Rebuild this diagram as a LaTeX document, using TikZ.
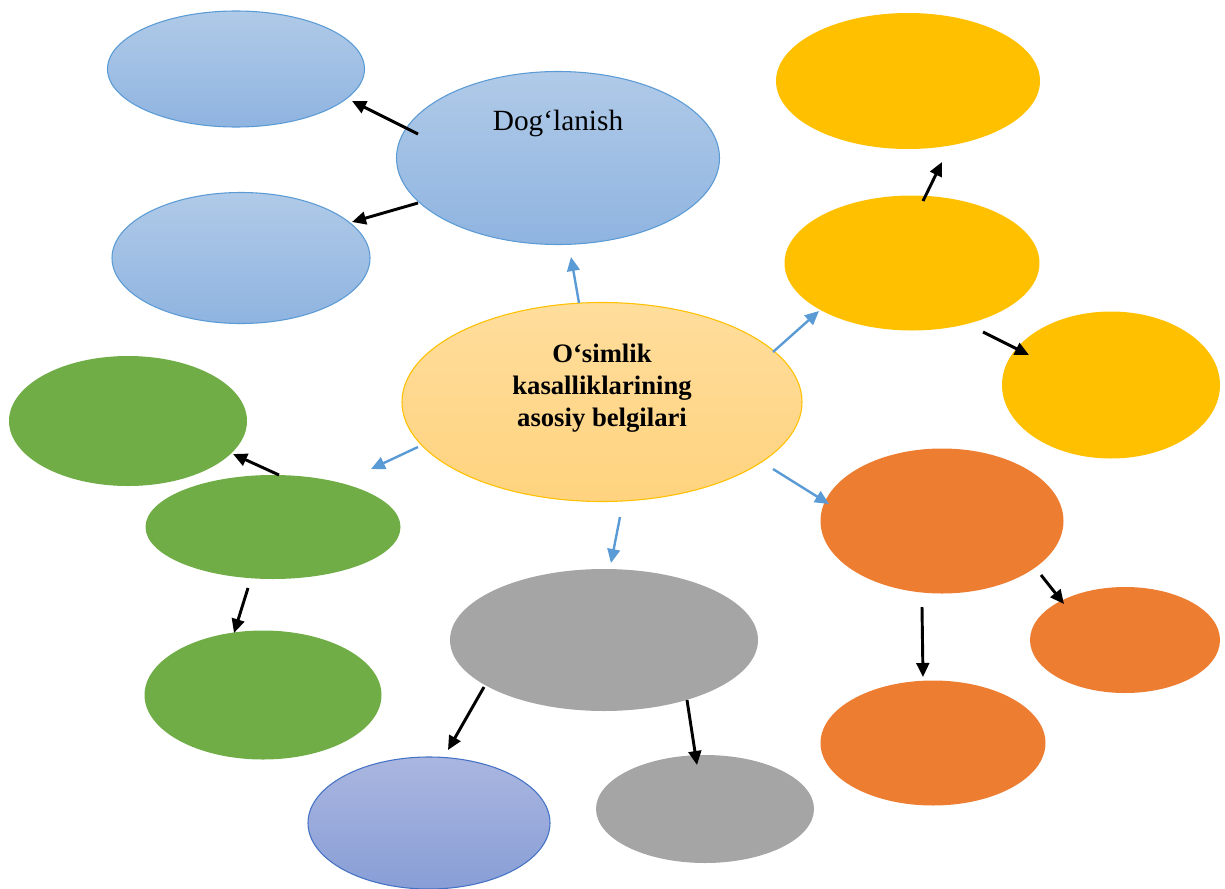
\documentclass[tikz,border=0pt]{standalone}
\usepackage{fontspec}
\setmainfont{Liberation Serif}
\usetikzlibrary{arrows.meta,shapes.geometric}

\definecolor{skyA}{HTML}{B0CAE8}
\definecolor{skyB}{HTML}{8FB4E0}
\definecolor{skyLine}{HTML}{5B9BD5}
\definecolor{lavA}{HTML}{AAB6E0}
\definecolor{lavB}{HTML}{889ED6}
\definecolor{lavLine}{HTML}{4472C4}
\definecolor{coreA}{HTML}{FFDD9C}
\definecolor{coreB}{HTML}{FFD37F}
\definecolor{gold}{HTML}{FFC000}
\definecolor{rust}{HTML}{ED7D31}
\definecolor{ash}{HTML}{A5A5A5}
\definecolor{leaf}{HTML}{70AD47}

\begin{document}
\begin{tikzpicture}[x=0.75pt,y=-0.75pt,
  sz/.style 2 args={minimum width=#1*0.75pt, minimum height=#2*0.75pt},
  bub/.style={ellipse, inner sep=0pt, outer sep=0pt},
  sky/.style={bub, draw=skyLine, line width=0.8pt, top color=skyA, bottom color=skyB},
  lav/.style={bub, draw=lavLine, line width=0.8pt, top color=lavA, bottom color=lavB},
  core/.style={bub, draw=gold, line width=0.8pt, top color=coreA, bottom color=coreB},
  goldfill/.style={bub, fill=gold},
  rustfill/.style={bub, fill=rust},
  ashfill/.style={bub, fill=ash},
  leaffill/.style={bub, fill=leaf},
  blk/.style={draw=black, line width=2.2pt, -{Triangle[length=10.5pt,width=9.5pt]}},
  blu/.style={draw=skyLine, line width=1.8pt, -{Triangle[length=10.5pt,width=9.5pt]}}
]
\useasboundingbox (0,0) rectangle (1225,889);

% central idea
\node[core, sz={400}{199},
  label={[align=center, font=\fontsize{20}{24}\selectfont\bfseries, yshift=10pt]center:O‘simlik\\kasalliklarining\\asosiy belgilari}]
  (root) at (602,402) {};

% blue branch
\node[sky, sz={323}{173},
  label={[font=\fontsize{22}{26}\selectfont, yshift=26pt]center:Dog‘lanish}]
  (dog) at (558,158) {};
\node[sky, sz={257}{116}] (dogA) at (236,69) {};
\node[sky, sz={258}{131}] (dogB) at (241,258) {};

% yellow branch
\node[goldfill, sz={255}{135}] (yel) at (912,263) {};
\node[goldfill, sz={264}{136}] (yelA) at (908,81) {};
\node[goldfill, sz={218}{147}] (yelB) at (1111,385) {};

% orange branch
\node[rustfill, sz={243}{145}] (org) at (942,521) {};
\node[rustfill, sz={190}{106}] (orgA) at (1125,640) {};
\node[rustfill, sz={225}{125}] (orgB) at (933,743) {};

% grey branch
\node[ashfill, sz={308}{142}] (gry) at (604,640) {};
\node[ashfill, sz={218}{108}] (gryA) at (705,809) {};
\node[lav, sz={242}{132}] (gryB) at (429,823) {};

% green branch
\node[leaffill, sz={255}{104}] (grn) at (273,527) {};
\node[leaffill, sz={238}{130}] (grnA) at (128,421) {};
\node[leaffill, sz={237}{129}] (grnB) at (263,695) {};

% arrow end points
\coordinate (r-dog) at (579,303);  \coordinate (dog-in) at (571,257);
\coordinate (r-yel) at (773,352);  \coordinate (yel-in) at (819,311);
\coordinate (r-grn) at (418,447);  \coordinate (grn-in) at (371,469);
\coordinate (r-gry) at (620,517);  \coordinate (gry-in) at (611,563);
\coordinate (r-org) at (773,469);  \coordinate (org-in) at (829,504);

\coordinate (dog-a) at (418,134);  \coordinate (dogA-in) at (352,101);
\coordinate (dog-b) at (418,203);  \coordinate (dogB-in) at (352,222);
\coordinate (yel-a) at (923,201);  \coordinate (yelA-in) at (942,162);
\coordinate (yel-b) at (983,332);  \coordinate (yelB-in) at (1029,355);
\coordinate (grn-a) at (279,475);  \coordinate (grnA-in) at (233,454);
\coordinate (grn-b) at (248,588);  \coordinate (grnB-in) at (234,633);
\coordinate (org-a) at (1041,575); \coordinate (orgA-in) at (1064,604);
\coordinate (org-b) at (922,607);  \coordinate (orgB-in) at (923,677);
\coordinate (gry-b) at (484,687);  \coordinate (gryB-in) at (448,750);
\coordinate (gry-a) at (687,700);  \coordinate (gryA-in) at (697,765);

% connectors from the central idea
\draw[blu] (r-dog) -- (dog-in);
\draw[blu] (r-yel) -- (yel-in);
\draw[blu] (r-grn) -- (grn-in);
\draw[blu] (r-gry) -- (gry-in);
\draw[blu] (r-org) -- (org-in);

% connectors inside each branch
\draw[blk] (dog-a) -- (dogA-in);
\draw[blk] (dog-b) -- (dogB-in);
\draw[blk] (yel-a) -- (yelA-in);
\draw[blk] (yel-b) -- (yelB-in);
\draw[blk] (grn-a) -- (grnA-in);
\draw[blk] (grn-b) -- (grnB-in);
\draw[blk] (org-a) -- (orgA-in);
\draw[blk] (org-b) -- (orgB-in);
\draw[blk] (gry-b) -- (gryB-in);
\draw[blk] (gry-a) -- (gryA-in);
\end{tikzpicture}
\end{document}
